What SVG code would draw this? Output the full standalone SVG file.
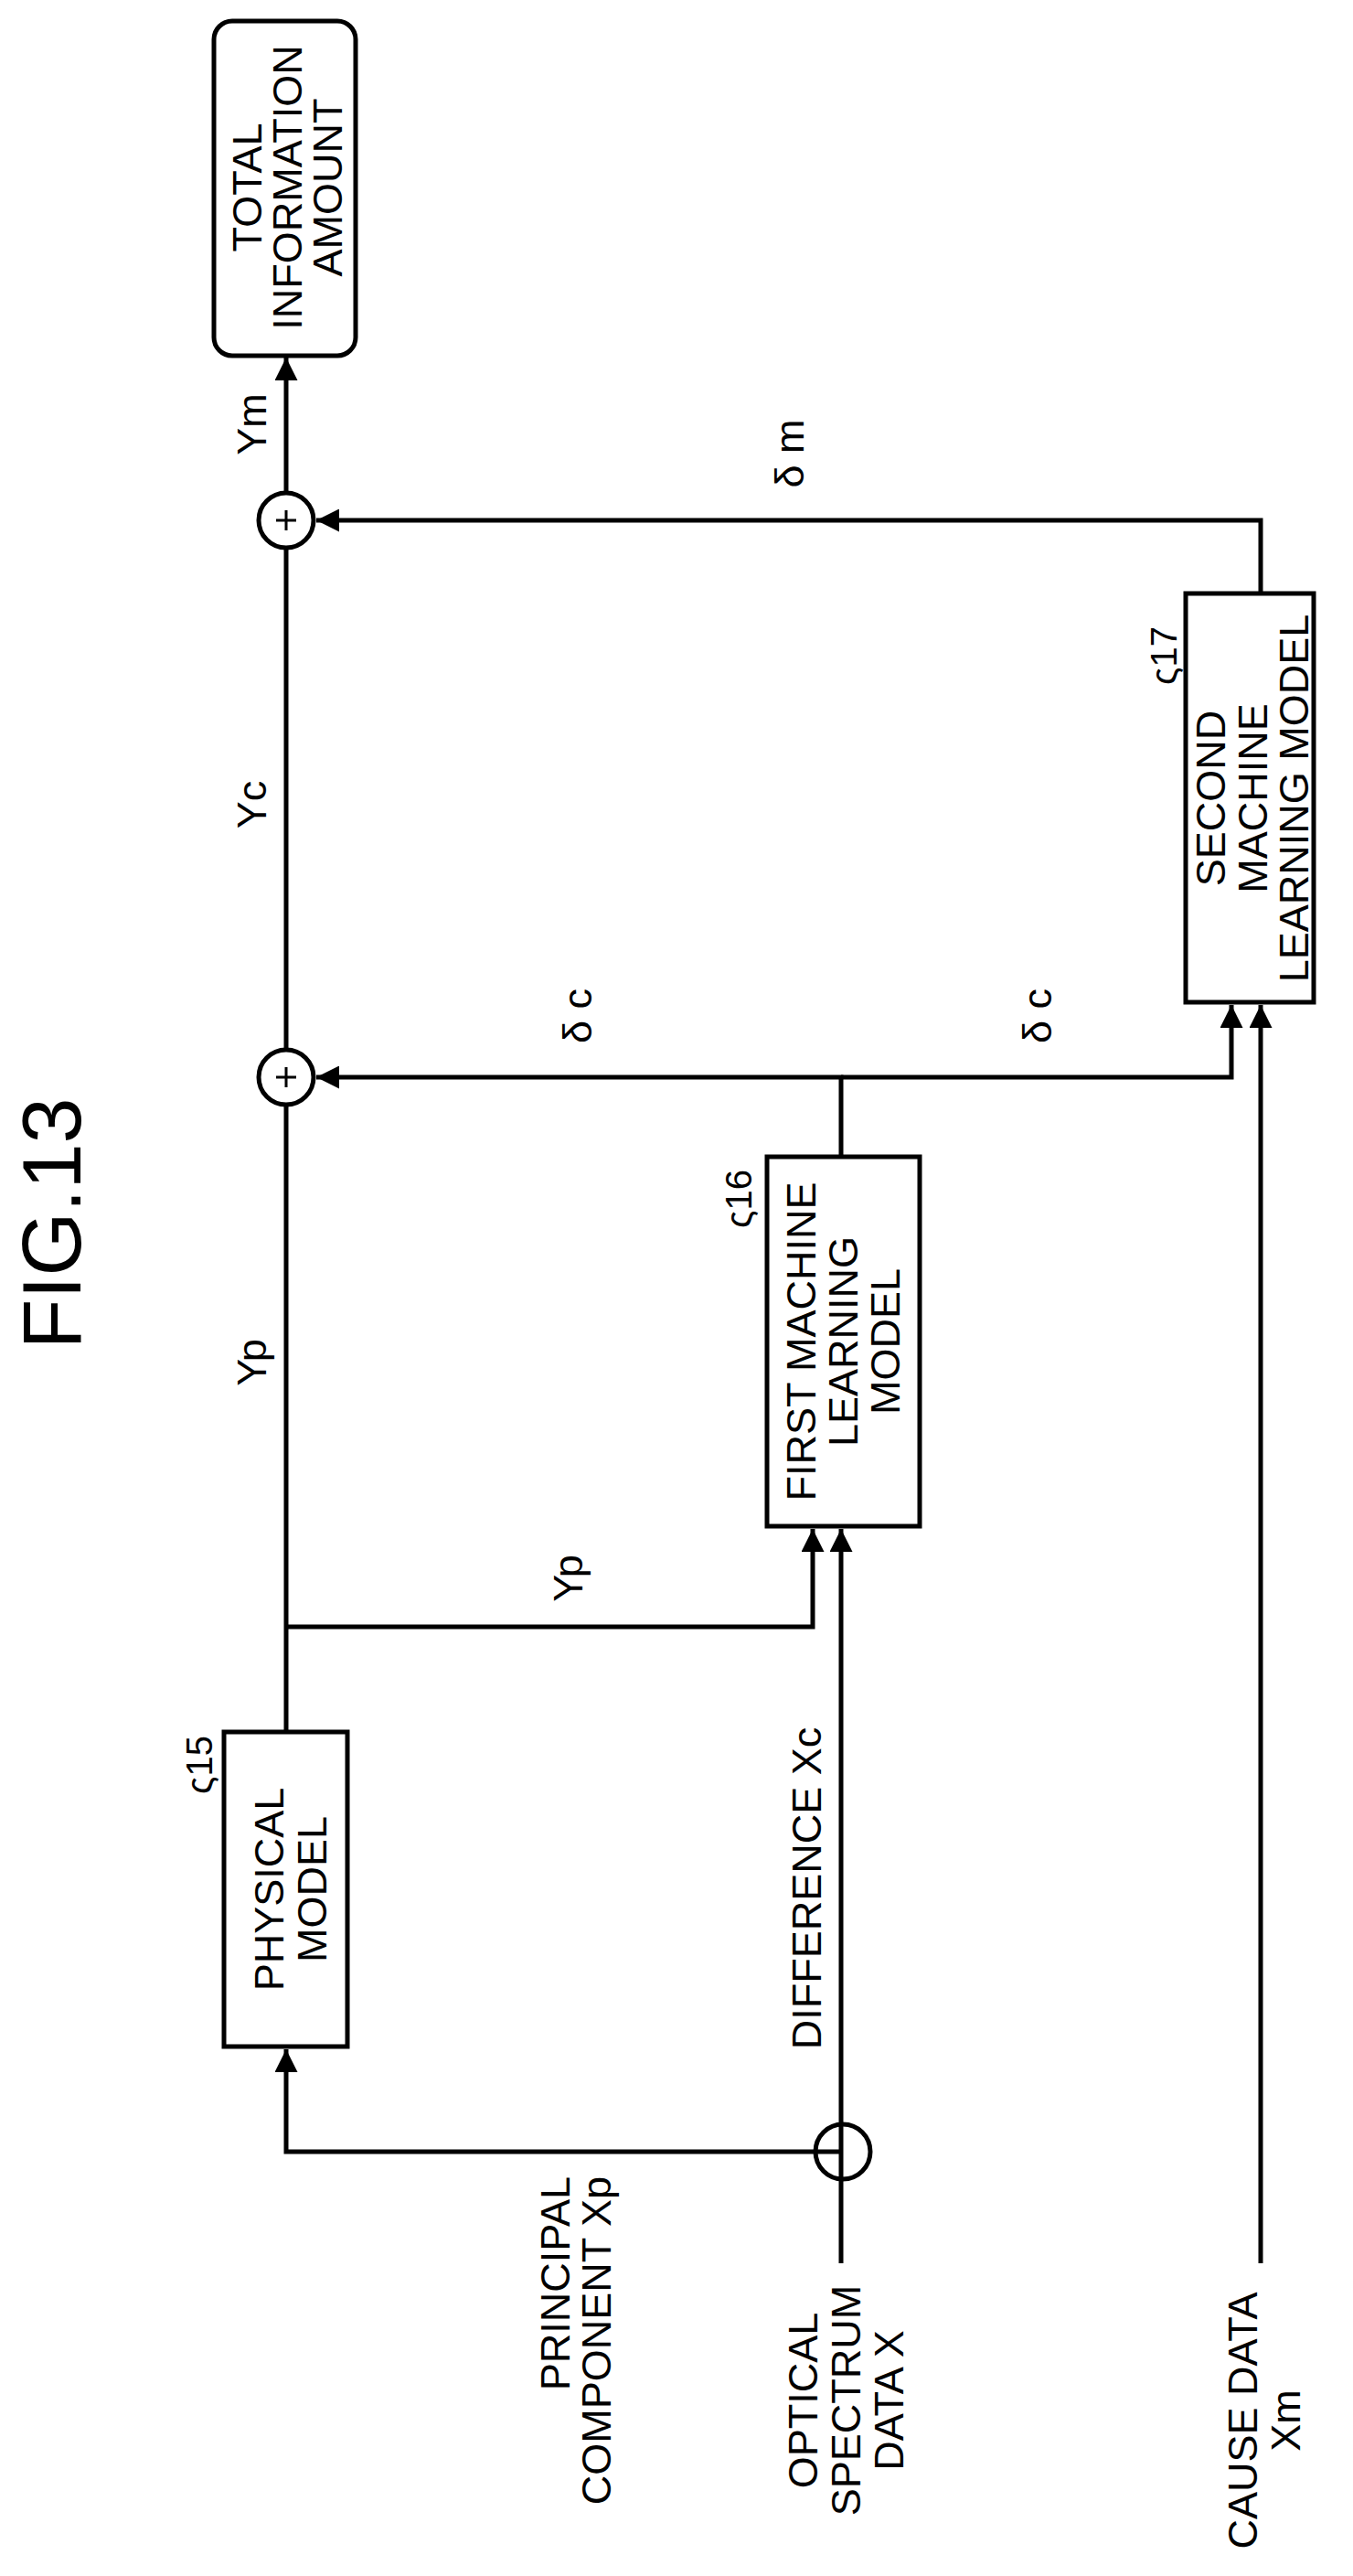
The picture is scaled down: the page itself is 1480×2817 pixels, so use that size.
<svg xmlns="http://www.w3.org/2000/svg" width="1480" height="2817" viewBox="0 0 1480 2817">
<style>
.t{font-family:"Liberation Sans",Arial,sans-serif;font-size:45px;fill:#000;text-anchor:middle;dominant-baseline:central}
.r{font-size:40px}
.box{fill:#fff;stroke:#000;stroke-width:5}
.ln{fill:none;stroke:#000;stroke-width:5}
</style>
<defs>
<marker id="a" viewBox="0 0 10 10" refX="10" refY="5" markerWidth="5.5" markerHeight="5" markerUnits="strokeWidth" orient="auto"><path d="M0,0L10,5L0,10z" fill="#000"/></marker>
</defs>
<text class="t" transform="translate(57,1338) rotate(-90)" style="font-size:90px">FIG.13</text>
<g id="connectors">
<path class="ln" d="M313,539V391" marker-end="url(#a)"/>
<path class="ln" d="M313,1148V599"/>
<path class="ln" d="M313,1894V1208"/>
<path class="ln" d="M1379,649V569H346" marker-end="url(#a)"/>
<path class="ln" d="M920,1265V1178H346" marker-end="url(#a)"/>
<path class="ln" d="M920,1178H1347V1099" marker-end="url(#a)"/>
<path class="ln" d="M1379,2475V1099" marker-end="url(#a)"/>
<path class="ln" d="M313,1779H889V1672" marker-end="url(#a)"/>
<path class="ln" d="M920,2475V1672" marker-end="url(#a)"/>
<path class="ln" d="M922,2353H313V2241" marker-end="url(#a)"/>
<circle class="ln" cx="922" cy="2353" r="30"/>
</g>
<g id="sum1"><circle class="box" cx="313" cy="1178" r="30"/><path class="ln" d="M302,1178h22M313,1167v22" style="stroke-width:3"/></g>
<g id="sum2"><circle class="box" cx="313" cy="569" r="30"/><path class="ln" d="M302,569h22M313,558v22" style="stroke-width:3"/></g>
<g id="total"><rect class="box" x="234" y="23" width="155" height="366" rx="20"/>
<text class="t" transform="translate(270,205) rotate(-90)">TOTAL</text>
<text class="t" transform="translate(314,205) rotate(-90)">INFORMATION</text>
<text class="t" transform="translate(358,205) rotate(-90)">AMOUNT</text></g>
<g id="second"><rect class="box" x="1297" y="649" width="140" height="447"/>
<text class="t" transform="translate(1324,873) rotate(-90)">SECOND</text>
<text class="t" transform="translate(1370,873) rotate(-90)">MACHINE</text>
<text class="t" transform="translate(1415,873) rotate(-90)">LEARNING MODEL</text>
<text class="t r" transform="translate(1273,717) rotate(-90)">ς17</text></g>
<g id="first"><rect class="box" x="839" y="1265" width="167" height="404"/>
<text class="t" transform="translate(876,1467) rotate(-90)">FIRST MACHINE</text>
<text class="t" transform="translate(922,1467) rotate(-90)">LEARNING</text>
<text class="t" transform="translate(968,1467) rotate(-90)">MODEL</text>
<text class="t r" transform="translate(808,1311) rotate(-90)">ς16</text></g>
<g id="physical"><rect class="box" x="245" y="1894" width="135" height="344"/>
<text class="t" transform="translate(294,2066) rotate(-90)">PHYSICAL</text>
<text class="t" transform="translate(341,2066) rotate(-90)">MODEL</text>
<text class="t r" transform="translate(218,1930) rotate(-90)">ς15</text></g>
<g id="labels">
<text class="t" transform="translate(275,464) rotate(-90)">Ym</text>
<text class="t" transform="translate(275,880) rotate(-90)">Yc</text>
<text class="t" transform="translate(863,496) rotate(-90)">δ m</text>
<text class="t" transform="translate(631,1111) rotate(-90)">δ c</text>
<text class="t" transform="translate(1134,1111) rotate(-90)">δ c</text>
<text class="t" transform="translate(275,1490) rotate(-90)">Yp</text>
<text class="t" transform="translate(621,1726) rotate(-90)">Yp</text>
<text class="t" transform="translate(882,2065) rotate(-90)">DIFFERENCE Xc</text>
<text class="t" transform="translate(607,2380) rotate(-90)" style="text-anchor:end">PRINCIPAL</text>
<text class="t" transform="translate(652,2380) rotate(-90)" style="text-anchor:end">COMPONENT Xp</text>
<text class="t" transform="translate(878,2625) rotate(-90)">OPTICAL</text>
<text class="t" transform="translate(925,2625) rotate(-90)">SPECTRUM</text>
<text class="t" transform="translate(972,2625) rotate(-90)">DATA X</text>
<text class="t" transform="translate(1359,2647) rotate(-90)">CAUSE DATA</text>
<text class="t" transform="translate(1406,2647) rotate(-90)">Xm</text>
</g>
</svg>
